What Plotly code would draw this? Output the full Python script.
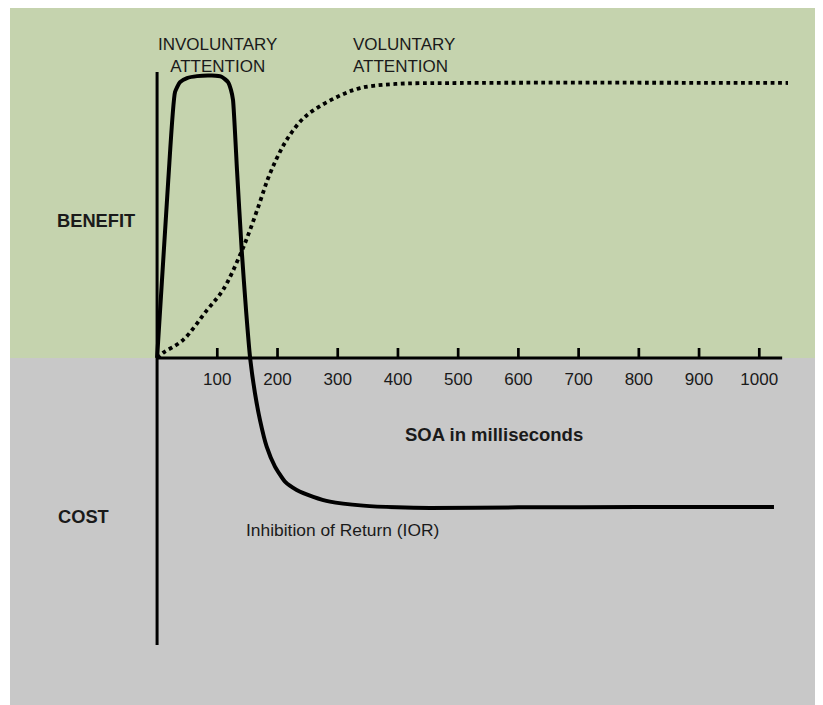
import plotly.graph_objects as go

# ---------------- data ----------------
# SOA (ms) and relative effect (benefit > 0, cost < 0), axis spans -1..1
invol_soa = [0, 18.6, 29.8, 38.1, 49.7, 66.3, 91.2, 107.8, 117.8, 122.8, 126.1, 132.7,
             140.5, 148.0, 154.5, 162.6, 170.9, 182.0, 195.8, 212.4, 231.8, 259.4,
             287.1, 342.4, 397.9, 453.1, 600, 800, 1024.4]
invol_eff = [0, 0.625, 0.933, 0.968, 0.982, 0.989, 0.991, 0.986, 0.968, 0.940, 0.905, 0.660,
             0.379, 0.160, 0.0, -0.124, -0.218, -0.311, -0.381, -0.434, -0.463, -0.487,
             -0.504, -0.518, -0.524, -0.526, -0.524, -0.523, -0.523]

vol_soa = [0, 9.8, 43, 82.9, 109.5, 137.7, 154.3, 170.9, 184.2, 197.5, 210.8, 224.0,
           240.0, 258.9, 298.8, 337, 391.8, 503.1, 1047.7]
vol_eff = [0, 0.018, 0.063, 0.168, 0.239, 0.361, 0.449, 0.548, 0.630, 0.695, 0.750, 0.793,
           0.835, 0.868, 0.916, 0.947, 0.961, 0.965, 0.965]

tick_vals = [100, 200, 300, 400, 500, 600, 700, 800, 900, 1000]
tick_labels = [str(v) for v in tick_vals]
axis_end = 1038

# ---------------- geometry helpers (reference pixel coordinates) ----------------
PAGE_W, PAGE_H = 823, 705
BODY = 8                            # default page margin around the figure
W, H = PAGE_W - BODY, PAGE_H - BODY
X0PX, XSCALE = 157.08, 0.6022      # px of SOA 0, px per ms
Y0PX, YSCALE = 358.0, 285.0        # px of effect 0, px per unit


def px_x(px):
    return (px - X0PX) / XSCALE


def px_y(px):
    return (Y0PX - px) / YSCALE


FONT = "Liberation Sans, Arial, sans-serif"
TXT = "#1a1a1a"
GREEN = "#c5d3ae"
GREY = "#c8c8c8"

fig = go.Figure()

# axes (drawn as traces)
fig.add_trace(go.Scatter(x=[0, axis_end], y=[0, 0], mode="lines",
                         line=dict(color="black", width=3), hoverinfo="skip"))
fig.add_trace(go.Scatter(x=[0, 0], y=[1.0035, -1.007], mode="lines",
                         line=dict(color="black", width=3), hoverinfo="skip"))
tx, ty = [], []
for v in tick_vals:
    tx += [v, v, None]
    ty += [0, 10 / YSCALE, None]
fig.add_trace(go.Scatter(x=tx, y=ty, mode="lines",
                         line=dict(color="black", width=2.7), hoverinfo="skip"))
fig.add_trace(go.Scatter(x=tick_vals, y=[px_y(381)] * len(tick_vals), mode="text",
                         text=tick_labels, textposition="middle center",
                         textfont=dict(family=FONT, size=17, color=TXT), hoverinfo="skip"))

# curves
fig.add_trace(go.Scatter(x=vol_soa, y=vol_eff, mode="lines",
                         line=dict(color="black", width=3.8, dash="3.8px,3.6px", shape="spline",
                                   smoothing=1.0),
                         name="Voluntary attention"))
fig.add_trace(go.Scatter(x=invol_soa, y=invol_eff, mode="lines",
                         line=dict(color="black", width=4, shape="spline", smoothing=0.5),
                         name="Involuntary attention"))

annos = []


def add_text(text, xpx, ypx, size=17, bold=False, align="center", xanchor="center"):
    annos.append(dict(x=px_x(xpx), y=px_y(ypx), xref="x", yref="y", text=text,
                      showarrow=False, xanchor=xanchor, yanchor="middle", align=align,
                      font=dict(family=FONT, size=size, color=TXT,
                                weight="bold" if bold else "normal")))


add_text("INVOLUNTARY<br>ATTENTION", 217, 55, align="center", xanchor="center")
add_text("VOLUNTARY<br>ATTENTION", 351, 55, align="left", xanchor="left")
add_text("BENEFIT", 55, 220, size=18.3, bold=True, xanchor="left")
add_text("COST", 56, 516, size=18.3, bold=True, xanchor="left")
add_text("SOA in milliseconds", 494, 434, size=18.5, bold=True)
add_text("Inhibition of Return (IOR)", 244, 530, size=17.4, xanchor="left")


def paper_x(px):
    return (px - BODY) / W


def paper_y(px):
    return 1 - (px - BODY) / H


shapes = [
    dict(type="rect", xref="paper", yref="paper", x0=paper_x(10), x1=1,
         y0=paper_y(Y0PX), y1=paper_y(7),
         fillcolor=GREEN, line=dict(width=0), layer="below"),
    dict(type="rect", xref="paper", yref="paper", x0=paper_x(10), x1=1,
         y0=0, y1=paper_y(Y0PX),
         fillcolor=GREY, line=dict(width=0), layer="below"),
]

fig.update_layout(
    width=W, height=H, autosize=False,
    margin=dict(l=0, r=0, t=0, b=0),
    paper_bgcolor="white", plot_bgcolor="white",
    showlegend=False,
    xaxis=dict(visible=False, range=[px_x(BODY), px_x(PAGE_W)], fixedrange=True),
    yaxis=dict(visible=False, range=[px_y(PAGE_H), px_y(BODY)], fixedrange=True),
    shapes=shapes, annotations=annos,
)

fig.write_html("out.html")
